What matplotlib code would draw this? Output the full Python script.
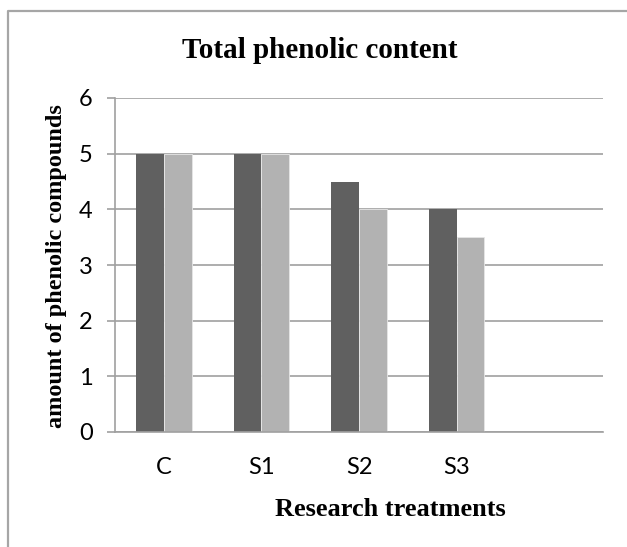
import matplotlib.pyplot as plt
from matplotlib.lines import Line2D
import numpy as np

categories = ['C', 'S1', 'S2', 'S3', '']
series_dark = [5, 5, 4.5, 4, 0]
series_light = [5, 5, 4, 3.5, 0]
yticks = [0, 1, 2, 3, 4, 5, 6]

W, H = 627, 547
fig = plt.figure(figsize=(W / 100, H / 100), dpi=100)
ax = fig.add_axes([115 / W, 1 - 432 / H, (603 - 115) / W, (432 - 98) / H])

x = np.arange(len(categories))
bw = 0.285
ax.bar(x - bw / 2, series_dark, bw, color='#606060', zorder=2)
ax.bar(x + bw / 2, series_light, bw, color='#b2b2b2', edgecolor='#e6e6e6',
       linewidth=0.6, zorder=2)

ax.set_xlim(-0.5, len(categories) - 0.5)
ax.set_ylim(0, 6)
ax.set_yticks(yticks)
ax.set_xticks(x)
ax.set_xticklabels(categories)
ax.grid(axis='y', color='#a0a0a0', linewidth=1.2, zorder=0)

for s in ['top', 'right']:
    ax.spines[s].set_visible(False)
ax.spines['left'].set_color('#a0a0a0')
ax.spines['bottom'].set_color('#a0a0a0')
ax.spines['left'].set_linewidth(1.2)
ax.spines['bottom'].set_linewidth(1.2)
ax.tick_params(axis='y', length=6, color='#a0a0a0', width=1.2, pad=10,
               labelsize=17)
ax.tick_params(axis='x', length=0, pad=18, labelsize=17)
for lab in ax.get_xticklabels() + ax.get_yticklabels():
    lab.set_fontfamily('Lato')

serif = {'family': 'Liberation Serif', 'weight': 'bold'}
fig.text(320 / W, 1 - 50 / H, 'Total phenolic content', ha='center',
         va='center', fontsize=21, **serif)
fig.text(390 / W, 1 - 510 / H, 'Research treatments', ha='center',
         va='center', fontsize=19, **serif)
fig.text(57 / W, 1 - 266 / H, 'amount of phenolic compounds', ha='center',
         va='center', rotation=90, fontsize=17.5, **serif)

# outer chart frame, cut by the image edges
fig.add_artist(Line2D([8 / W, 8 / W, 1.0], [0.0, 1 - 11 / H, 1 - 11 / H],
                      transform=fig.transFigure, color='#a6a6a6',
                      linewidth=1.6))

fig.savefig('out.png', dpi=100)
